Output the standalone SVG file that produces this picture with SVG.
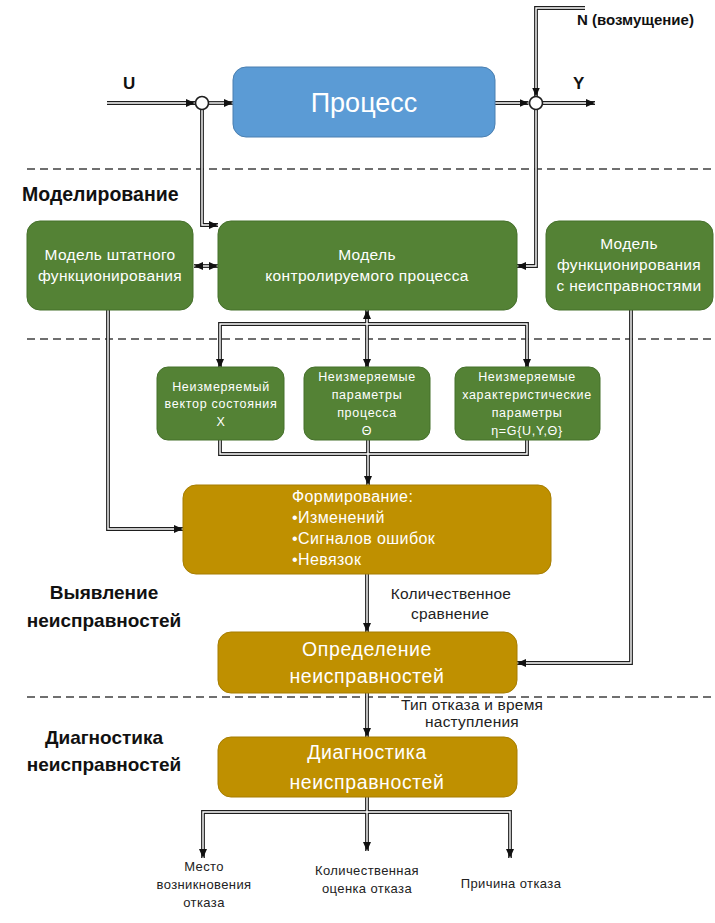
<svg xmlns="http://www.w3.org/2000/svg" width="715" height="923" viewBox="0 0 715 923">
  <style>
    text { font-family: "Liberation Sans", Arial, sans-serif; }
    .sep { stroke: #404040; stroke-width: 1.3; stroke-dasharray: 8 5; fill: none; }
    .proc { fill: #5B9BD5; stroke: #4A7FB0; stroke-width: 1; }
    .grn { fill: #548235; stroke: #45702B; stroke-width: 1; }
    .gld { fill: #BF9000; stroke: #A67D00; stroke-width: 1; }
    .wt { fill: #FFFFFF; text-anchor: middle; }
    .sm { font-size: 12.5px; letter-spacing: 0.7px; }
    .md { font-size: 15.5px; letter-spacing: 0.35px; }
    .fm { font-size: 16px; letter-spacing: 0.4px; fill: #FFFFFF; }
    .lg { font-size: 19.5px; letter-spacing: 0.6px; }
    .hd { font-weight: bold; font-size: 19px; fill: #111; text-anchor: middle; }
    .lbl { font-size: 15.5px; fill: #222; text-anchor: middle; letter-spacing: 0.2px; }
    .lbs { font-size: 13px; fill: #222; text-anchor: middle; letter-spacing: 0.4px; }
    .io { font-weight: bold; fill: #111; }
    .dk { fill: none; stroke: #1E1E1E; stroke-width: 3.8; stroke-linejoin: miter; }
    .in { fill: none; stroke: #FFFFFF; stroke-width: 1.4; stroke-linejoin: miter; }
    .sum { fill: #FFFFFF; stroke: #1E1E1E; stroke-width: 1.6; }
  </style>
  <defs>
    <marker id="ah" viewBox="0 0 9 8" refX="9" refY="4" markerWidth="9" markerHeight="8" markerUnits="userSpaceOnUse" orient="auto-start-reverse">
      <path d="M0,0 L9,4 L0,8 z" fill="#111"/>
    </marker>
  </defs>

  <!-- section separators -->
  <g id="separators">
    <line class="sep" x1="27" y1="169" x2="715" y2="169"/>
    <line class="sep" x1="27" y1="339" x2="715" y2="339"/>
    <line class="sep" x1="27" y1="697" x2="715" y2="697"/>
  </g>

  <!-- section titles -->
  <g id="titles">
    <text x="22" y="201" class="io" font-size="19.5">Моделирование</text>
    <text x="104" y="599" class="hd">Выявление</text>
    <text x="104" y="627" class="hd">неисправностей</text>
    <text x="104" y="744" class="hd">Диагностика</text>
    <text x="104" y="771" class="hd">неисправностей</text>
  </g>

  <!-- connectors: dark outline pass, then white core pass with arrowheads -->
  <g id="connectors">
    <g class="dk">
      <path d="M107,103 H195"/>
      <path d="M208.5,103 H233"/>
      <path d="M202,109.5 V225 H218"/>
      <path d="M495,103 H528.5"/>
      <path d="M541.5,103 H595"/>
      <path d="M585,8 H536 V96.5"/>
      <path d="M536,109.5 V266 H517"/>
      <path d="M194,266 H218"/>
      <path d="M108,310 V529 H183"/>
      <path d="M220,368 V324 H527 V368"/>
      <path d="M367,310 V368"/>
      <path d="M220,440 V454 H527 V440"/>
      <path d="M368,440 V485"/>
      <path d="M367,574 V632"/>
      <path d="M631,310 V663 H517"/>
      <path d="M367,693 V737"/>
      <path d="M367,797 V812"/>
      <path d="M203,858 V812 H510 V858"/>
      <path d="M367,812 V851"/>
    </g>
    <g class="in">
      <path d="M107,103 H195" marker-end="url(#ah)"/>
      <path d="M208.5,103 H233" marker-end="url(#ah)"/>
      <path d="M202,109.5 V225 H218" marker-end="url(#ah)"/>
      <path d="M495,103 H528.5" marker-end="url(#ah)"/>
      <path d="M541.5,103 H595" marker-end="url(#ah)"/>
      <path d="M585,8 H536 V96.5" marker-end="url(#ah)"/>
      <path d="M536,109.5 V266 H517" marker-end="url(#ah)"/>
      <path d="M194,266 H218" marker-start="url(#ah)" marker-end="url(#ah)"/>
      <path d="M108,310 V529 H183" marker-end="url(#ah)"/>
      <path d="M220,368 V324 H527 V368" marker-start="url(#ah)" marker-end="url(#ah)"/>
      <path d="M367,310 V368" marker-start="url(#ah)" marker-end="url(#ah)"/>
      <path d="M220,440 V454 H527 V440"/>
      <path d="M368,440 V485" marker-end="url(#ah)"/>
      <path d="M367,574 V632" marker-end="url(#ah)"/>
      <path d="M631,310 V663 H517" marker-end="url(#ah)"/>
      <path d="M367,693 V737" marker-end="url(#ah)"/>
      <path d="M367,797 V812"/>
      <path d="M203,858 V812 H510 V858" marker-start="url(#ah)" marker-end="url(#ah)"/>
      <path d="M367,812 V851" marker-end="url(#ah)"/>
    </g>
  </g>

  <!-- summing junctions -->
  <g id="sum-in"><circle class="sum" cx="202" cy="103" r="6.5"/></g>
  <g id="sum-out"><circle class="sum" cx="536" cy="103" r="6.5"/></g>

  <!-- signal names -->
  <g id="signals">
    <text x="123" y="89" class="io" font-size="17">U</text>
    <text x="573" y="89" class="io" font-size="17">Y</text>
    <text x="577" y="25" class="io" font-size="15">N (возмущение)</text>
  </g>

  <g id="process">
    <rect class="proc" x="233" y="67" width="262" height="70" rx="13"/>
    <text x="364" y="112" class="wt" font-size="27">Процесс</text>
  </g>

  <g id="model-nominal">
    <rect class="grn" x="27" y="221" width="166" height="89" rx="13"/>
    <text class="wt md" x="110" y="260">Модель штатного</text>
    <text class="wt md" x="110" y="281">функционирования</text>
  </g>

  <g id="model-process">
    <rect class="grn" x="218" y="221" width="299" height="89" rx="13"/>
    <text class="wt md" x="367" y="260">Модель</text>
    <text class="wt md" x="367" y="281">контролируемого процесса</text>
  </g>

  <g id="model-faulty">
    <rect class="grn" x="546" y="221" width="167" height="89" rx="13"/>
    <text class="wt md" x="629" y="249">Модель</text>
    <text class="wt md" x="629" y="270">функционирования</text>
    <text class="wt md" x="629" y="291">с неисправностями</text>
  </g>

  <g id="state-vector">
    <rect class="grn" x="157" y="367" width="127" height="73" rx="11"/>
    <text class="wt sm" x="221" y="391">Неизмеряемый</text>
    <text class="wt sm" x="221" y="408">вектор состояния</text>
    <text class="wt sm" x="221" y="426">X</text>
  </g>

  <g id="process-params">
    <rect class="grn" x="304" y="367" width="126" height="73" rx="11"/>
    <text class="wt sm" x="367" y="381">Неизмеряемые</text>
    <text class="wt sm" x="367" y="399">параметры</text>
    <text class="wt sm" x="367" y="417">процесса</text>
    <text class="wt sm" x="367" y="435">Θ</text>
  </g>

  <g id="char-params">
    <rect class="grn" x="455" y="367" width="145" height="73" rx="11"/>
    <text class="wt sm" x="527" y="381">Неизмеряемые</text>
    <text class="wt sm" x="527" y="399">характеристические</text>
    <text class="wt sm" x="527" y="417">параметры</text>
    <text class="wt sm" x="527" y="435">η=G{U,Y,Θ}</text>
  </g>

  <g id="forming">
    <rect class="gld" x="183" y="485" width="368" height="89" rx="13"/>
    <text class="fm" x="292" y="502">Формирование:</text>
    <text class="fm" x="292" y="523">•Изменений</text>
    <text class="fm" x="292" y="544">•Сигналов ошибок</text>
    <text class="fm" x="292" y="565">•Невязок</text>
  </g>

  <g id="label-compare">
    <text class="lbl" x="451" y="599">Количественное</text>
    <text class="lbl" x="450" y="619">сравнение</text>
  </g>

  <g id="detection">
    <rect class="gld" x="218" y="632" width="299" height="61" rx="13"/>
    <text class="wt lg" x="367" y="656">Определение</text>
    <text class="wt lg" x="367" y="683">неисправностей</text>
  </g>

  <g id="label-type">
    <text class="lbl" x="472" y="710">Тип отказа и время</text>
    <text class="lbl" x="472" y="727">наступления</text>
  </g>

  <g id="diagnosis">
    <rect class="gld" x="218" y="737" width="299" height="60" rx="13"/>
    <text class="wt lg" x="367" y="759">Диагностика</text>
    <text class="wt lg" x="367" y="789">неисправностей</text>
  </g>

  <g id="out-location">
    <text class="lbs" x="204" y="871">Место</text>
    <text class="lbs" x="204" y="889">возникновения</text>
    <text class="lbs" x="204" y="907">отказа</text>
  </g>
  <g id="out-magnitude">
    <text class="lbs" x="367" y="875">Количественная</text>
    <text class="lbs" x="367" y="893">оценка отказа</text>
  </g>
  <g id="out-cause">
    <text class="lbs" x="511" y="888">Причина отказа</text>
  </g>
</svg>
